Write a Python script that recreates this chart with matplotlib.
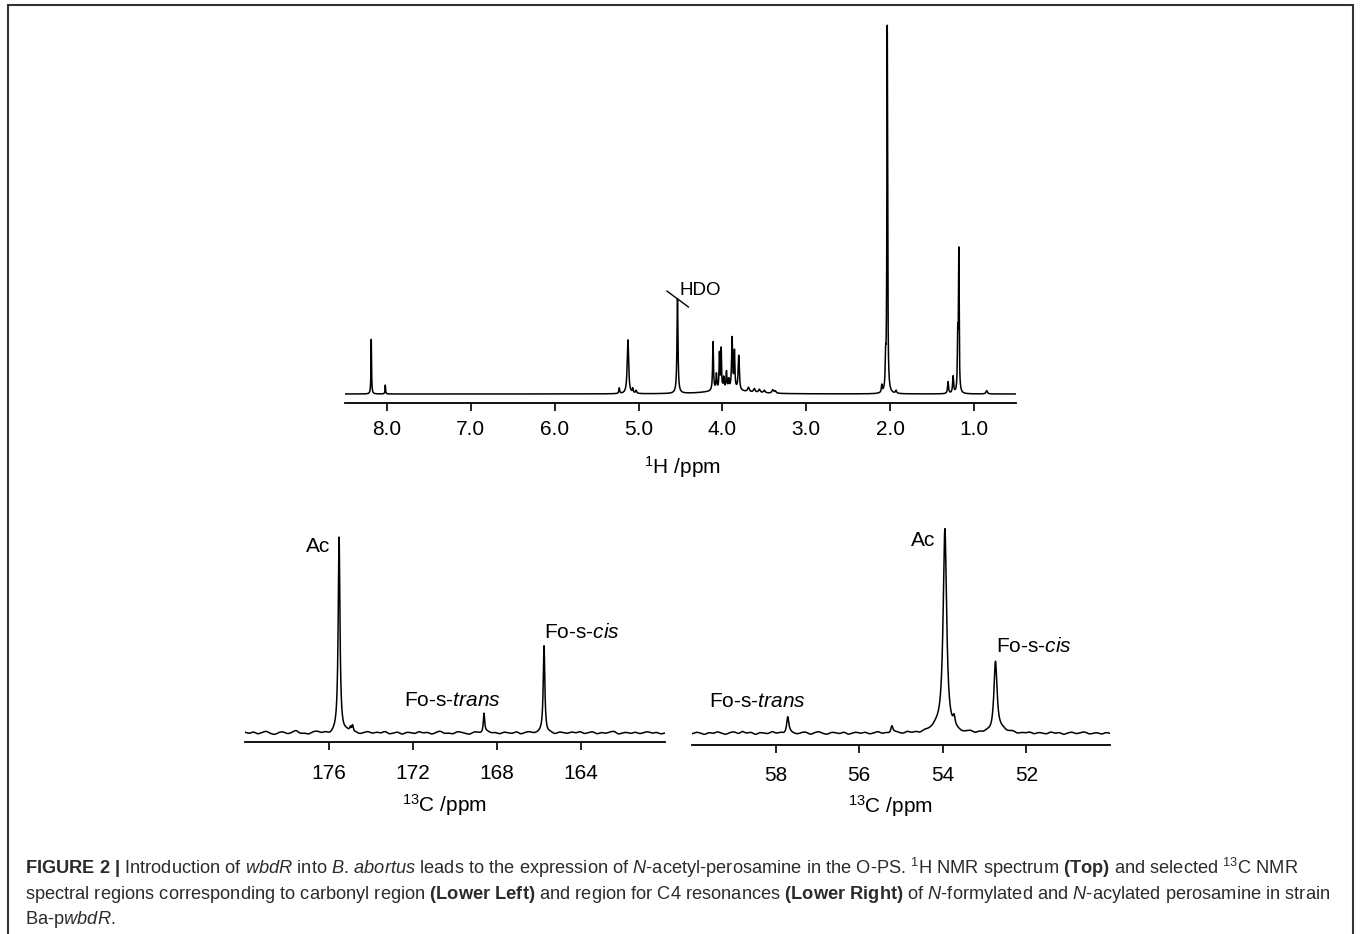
import numpy as np
import matplotlib.pyplot as plt
from matplotlib.patches import Rectangle

plt.rcParams['font.family'] = ['Liberation Sans', 'DejaVu Sans']
plt.rcParams['mathtext.fontset'] = 'custom'
plt.rcParams['mathtext.rm'] = 'Liberation Sans'
plt.rcParams['mathtext.it'] = 'Liberation Sans:italic'
plt.rcParams['mathtext.bf'] = 'Liberation Sans:bold'
plt.rcParams['mathtext.sf'] = 'Liberation Sans'

# 1H spectrum peaks (ppm, height, half width)
h1_shift = [8.187, 8.02, 5.23, 5.127, 5.07, 5.03, 4.536,
            4.112, 4.072, 4.036, 4.015, 3.985, 3.952, 3.925, 3.885, 3.857, 3.806,
            3.95, 3.69, 3.62, 3.56, 3.50, 3.40, 3.37,
            2.10, 2.055, 2.035, 1.93,
            1.31, 1.25, 1.195, 1.182, 0.85]
h1_height = [14.8, 2.4, 1.5, 14.6, 1.2, 0.8, 25.7,
             13.2, 4.2, 9.6, 10.8, 3.0, 4.6, 2.4, 13.8, 10.0, 9.4,
             1.2, 1.2, 1.0, 0.9, 0.7, 0.9, 0.6,
             2.0, 7.5, 99.5, 0.8,
             3.2, 4.6, 14.0, 38.0, 0.9]
h1_width = [0.004, 0.004, 0.006, 0.010, 0.006, 0.008, 0.007,
            0.006, 0.006, 0.005, 0.005, 0.006, 0.006, 0.006, 0.007, 0.006, 0.008,
            0.22, 0.012, 0.012, 0.012, 0.012, 0.012, 0.012,
            0.006, 0.005, 0.005, 0.008,
            0.007, 0.007, 0.005, 0.005, 0.010]

# 13C carbonyl region peaks
cl_shift = [175.52, 174.98, 174.88, 168.62, 165.76]
cl_height = [100.0, 2.5, 3.5, 10.1, 44.6]
cl_width = [0.05, 0.04, 0.04, 0.04, 0.045]
cl_noise = [0.4, -0.3, 0.6, -0.5, 0.2, 0.8, -0.2, -0.7, 0.3, 0.5, -0.4, 0.1, 1.2, -0.3, 0.0, -0.6, 0.4, 0.7, -0.2, 0.3,
            -0.8, 0.2, 0.5, -0.1, 0.9, -0.4, 0.3, -0.6, 0.1, 0.6, -0.3, 0.4, -0.2, 0.8, -0.5, 0.0, 0.5, -0.7, 0.3, 0.2,
            -0.4, 0.7, -0.1, 0.4, -0.6, 0.2, 0.9, -0.3, 0.1, -0.5, 0.6, 0.3, -0.2, -0.6, 0.5, 0.2, -0.4, 0.8, -0.1, 0.3,
            -0.5, 0.4, 0.1, -0.3, 0.7, -0.6, 0.2, 0.5, -0.2, 0.0, 0.6, -0.4, 0.3, -0.7, 0.4, 0.1, -0.3, 0.5, -0.1, 0.7,
            -0.4, 0.2, 0.6, -0.5, 0.3, -0.2, 0.4, 0.8, -0.6, 0.1, 0.3, -0.3, 0.5, -0.4, 0.2, 0.6, -0.2, 0.4, -0.5, 0.1]

# 13C C4 region peaks
cr_shift = [58.8, 57.71, 55.22, 54.2, 53.95, 53.73, 52.74, 52.55]
cr_height = [0.8, 7.9, 3.8, 2.0, 100.0, 4.0, 35.0, 1.5]
cr_width = [0.05, 0.03, 0.03, 0.15, 0.05, 0.025, 0.045, 0.08]
cr_noise = [-0.3, 0.5, 0.1, -0.6, 0.4, -0.2, 0.7, 0.0, -0.5, 0.3, 0.6, -0.4, 0.2, -0.1, 0.5, -0.7, 0.3, 0.1, -0.3, 0.8,
            -0.2, 0.4, -0.5, 0.6, 0.0, -0.4, 0.3, 0.5, -0.6, 0.2, 0.7, -0.1, -0.5, 0.4, 0.2, -0.3, 0.6, -0.6, 0.1, 0.4,
            -0.2, 0.5, -0.4, 0.0, 0.7, -0.3, 0.2, -0.6, 0.5, 0.1, -0.4, 0.6, -0.2, 0.3, -0.5, 0.4, 0.0, -0.3, 0.6, -0.1,
            0.3, -0.6, 0.5, 0.2, -0.4, 0.1, 0.6, -0.5, 0.3, -0.2, 0.4, -0.7, 0.2, 0.5, -0.3, 0.1, 0.7, -0.4, 0.2, -0.1,
            0.5, -0.5, 0.3, 0.0, -0.4, 0.6, -0.2, 0.4, -0.6, 0.1, 0.5, -0.3, 0.2, 0.6, -0.4, 0.0, 0.3, -0.5, 0.4, -0.1]

h1_ticks = [8.0, 7.0, 6.0, 5.0, 4.0, 3.0, 2.0, 1.0]
cl_ticks = [176, 172, 168, 164]
cr_ticks = [58, 56, 54, 52]

W, H = 1360, 934
fig = plt.figure(figsize=(W / 100, H / 100), dpi=100)


def px_axes(x0, x1, y_top, y_bot):
    return fig.add_axes([x0 / W, 1 - y_bot / H, (x1 - x0) / W, (y_bot - y_top) / H])


def lorentz(x, shifts, heights, widths):
    y = np.zeros_like(x)
    for s, h, w in zip(shifts, heights, widths):
        y += h * w ** 2 / ((x - s) ** 2 + w ** 2)
    return y


def wiggle(x, lo, hi, vals):
    nodes = np.linspace(lo, hi, len(vals))
    sig = 0.55 * abs(nodes[1] - nodes[0])
    y = np.zeros_like(x)
    for n, v in zip(nodes, vals):
        y += v * np.exp(-(x - n) ** 2 / (2 * sig ** 2))
    return y


def style(ax, ticks, fmt, pad):
    for s in ['left', 'top', 'right']:
        ax.spines[s].set_visible(False)
    ax.spines['bottom'].set_linewidth(1.3)
    ax.set_yticks([])
    ax.set_xticks(ticks)
    ax.set_xticklabels([fmt.format(t) for t in ticks])
    ax.tick_params(axis='x', direction='out', length=6, width=1.2, labelsize=15, pad=pad)


lw = 1.1

# top: 1H
ax1 = px_axes(345, 1016, 20, 403)
x1 = np.linspace(8.5, 0.5, 16001)
ax1.plot(x1, lorentz(x1, h1_shift, h1_height, h1_width), color='black', lw=lw)
ax1.set_xlim(8.5, 0.5)
ax1.set_ylim(-2.44, 101.4)
style(ax1, h1_ticks, '{:.1f}', 6.5)
ax1.set_xlabel(r'$^{1}$H /ppm', fontsize=15)
ax1.xaxis.set_label_coords(0.503, -0.133)
hdo_x, hdo_y = h1_shift[6], h1_height[6]
ax1.plot([hdo_x + 0.125, hdo_x - 0.13], [hdo_y + 2.2, hdo_y - 2.1], color='black', lw=1.0)
ax1.text(hdo_x - 0.022, hdo_y + 2.3, 'HDO', fontsize=13.5, ha='left', va='center')

# lower left: 13C carbonyl
ax2 = px_axes(245, 665, 525, 742)
x2 = np.linspace(180, 160, 8001)
ax2.plot(x2, lorentz(x2, cl_shift, cl_height, cl_width) + wiggle(x2, 180, 160, cl_noise),
         color='black', lw=lw)
ax2.set_xlim(180, 160)
ax2.set_ylim(-4.6, 106.7)
style(ax2, cl_ticks, '{:d}', 9.5)
ax2.set_xlabel(r'$^{13}$C /ppm', fontsize=15)
ax2.xaxis.set_label_coords(0.474, -0.23)
ax2.text(cl_shift[0] + 0.43, 95.9, 'Ac', fontsize=15, ha='right', va='center')
ax2.text(172.43, 16.9, r'Fo-s-$\mathit{trans}$', fontsize=15, ha='left', va='center')
ax2.text(cl_shift[4], 51.8, r'Fo-s-$\mathit{cis}$', fontsize=15, ha='left', va='center')

# lower right: 13C C4
ax3 = px_axes(692, 1110, 525, 745)
x3 = np.linspace(60, 50, 8001)
ax3.plot(x3, lorentz(x3, cr_shift, cr_height, cr_width) + wiggle(x3, 60, 50, cr_noise),
         color='black', lw=lw)
ax3.set_xlim(60, 50)
ax3.set_ylim(-5.76, 102.6)
style(ax3, cr_ticks, '{:d}', 9)
ax3.set_xlabel(r'$^{13}$C /ppm', fontsize=15)
ax3.xaxis.set_label_coords(0.474, -0.22)
ax3.text(54.19, 95.2, 'Ac', fontsize=15, ha='right', va='center')
ax3.text(59.59, 15.6, r'Fo-s-$\mathit{trans}$', fontsize=15, ha='left', va='center')
ax3.text(cr_shift[6] - 0.02, 42.7, r'Fo-s-$\mathit{cis}$', fontsize=15, ha='left', va='center')

# frame
fig.patches.append(Rectangle((8 / W, -0.05), (1353 - 8) / W, 1.05 - 5 / H, transform=fig.transFigure,
                             fill=False, edgecolor='#333333', lw=1.5))

# caption
cap = [
    r'$\mathbf{FIGURE\ 2\ |}$ Introduction of $\mathit{wbdR}$ into $\mathit{B}$. $\mathit{abortus}$ leads to the expression of '
    r'$\mathit{N}$-acetyl-perosamine in the O-PS. $^{1}$H NMR spectrum $\mathbf{(Top)}$ and selected $^{13}$C NMR',
    r'spectral regions corresponding to carbonyl region $\mathbf{(Lower\ Left)}$ and region for C4 resonances '
    r'$\mathbf{(Lower\ Right)}$ of $\mathit{N}$-formylated and $\mathit{N}$-acylated perosamine in strain',
    r'Ba-p$\mathit{wbdR}$.',
]
for i, line in enumerate(cap):
    fig.text(25 / W, 1 - (874 + 25 * i) / H, line, fontsize=13.15, color='#2b2b2b', va='baseline', ha='left')

fig.savefig('out.png', dpi=100)
